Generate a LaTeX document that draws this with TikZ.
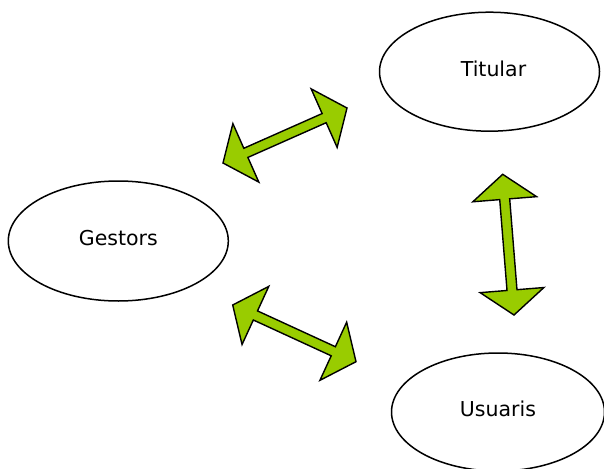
\documentclass[tikz,border=0pt]{standalone}
\usepackage{fontspec}
\setmainfont{DejaVu Sans}
\usetikzlibrary{shapes.geometric,calc}
\definecolor{arrowgreen}{RGB}{153,204,0}
\tikzset{
  actor/.style={ellipse, draw=black, line width=1.5pt, fill=white, inner sep=0pt,
    text height=14.8pt, text depth=6pt,
    font=\fontsize{20.5}{23}\selectfont},
  blockarrow/.style={draw=black, fill=arrowgreen, line width=1.4pt, line join=miter},
}
% double-headed block arrow between two named coordinates
\newcommand{\dblblock}[2]{%
  \coordinate (ha) at ($(#1)!25pt!(#2)$);
  \coordinate (hb) at ($(#2)!25pt!(#1)$);
  \draw[blockarrow] (#1)
    -- ($(ha)!32pt!90:(#1)$) -- ($(ha)!5pt!90:(#1)$)
    -- ($(hb)!5pt!-90:(#2)$) -- ($(hb)!32pt!-90:(#2)$)
    -- (#2)
    -- ($(hb)!32pt!90:(#2)$) -- ($(hb)!5pt!90:(#2)$)
    -- ($(ha)!5pt!-90:(#1)$) -- ($(ha)!32pt!-90:(#1)$)
    -- cycle;}
\begin{document}
\begin{tikzpicture}[x=1pt,y=-1pt]
  \clip (0,0) rectangle (604,468);
  \fill[white] (0,0) rectangle (604,468);

  \node[actor, minimum width=220pt, minimum height=119pt] (titular) at (489.5,71.7) {\hspace*{8pt}Titular};
  \node[actor, minimum width=220pt, minimum height=120pt] (gestors) at (118.3,241) {Gestors};
  \node[actor, minimum width=213pt, minimum height=118pt] (usuaris) at (498,412) {Usuaris};

  % arrow ends
  \coordinate (g1) at (223,163);
  \coordinate (t1) at (347,108);
  \coordinate (t2) at (502.7,174.3);
  \coordinate (u2) at (514,315);
  \coordinate (g3) at (232.7,305);
  \coordinate (u3) at (356,361.7);

  \dblblock{g1}{t1}
  \dblblock{t2}{u2}
  \dblblock{g3}{u3}
\end{tikzpicture}
\end{document}
